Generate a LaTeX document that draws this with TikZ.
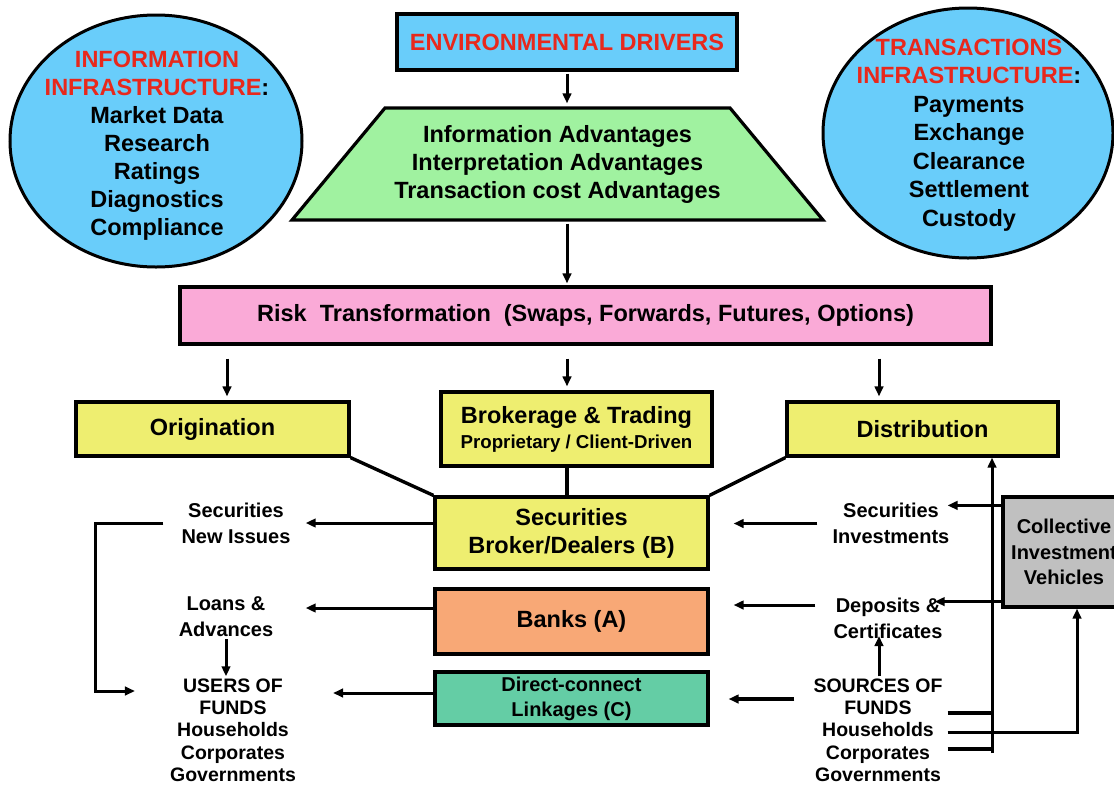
\documentclass[tikz,border=0pt]{standalone}
\usepackage{fontspec}
\setmainfont{Liberation Sans}
\usetikzlibrary{arrows.meta,positioning,shapes.geometric}
\definecolor{skyfill}{RGB}{105,205,250}
\definecolor{hdred}{RGB}{232,40,28}
\definecolor{advfill}{RGB}{160,242,160}
\definecolor{riskfill}{RGB}{250,170,215}
\definecolor{yelfill}{RGB}{238,238,112}
\definecolor{bankfill}{RGB}{248,168,118}
\definecolor{dirfill}{RGB}{100,205,165}
\definecolor{civfill}{RGB}{192,192,192}

\begin{document}
\begin{tikzpicture}[x=1pt, y=-1pt,
    box/.style={draw, line width=3.2pt, inner sep=0pt, align=center, font=\bfseries\fontsize{23.5}{28}\selectfont},
    bubble/.style={draw, ellipse, fill=skyfill, line width=3pt, minimum width=292pt, minimum height=252pt},
    lbl/.style={inner sep=2pt, align=center, font=\bfseries\fontsize{20}{26}\selectfont},
    fundlbl/.style={inner sep=2pt, align=center, font=\bfseries\fontsize{19.5}{22.3}\selectfont},
    arr/.style={-{Triangle[length=10pt,width=8.5pt]}, line width=3pt},
    link/.style={line width=3.4pt}]
    \useasboundingbox (0,0) rectangle (1114,785);

    % infrastructure bubbles
    \node[bubble] (infoell) at (156,141) {};
    \node[align=center, font=\bfseries\fontsize{23.5}{28}\selectfont] (info) at (157,146)
        {\textcolor{hdred}{INFORMATION}\\\textcolor{hdred}{INFRASTRUCTURE}:\\Market Data\\Research\\Ratings\\Diagnostics\\Compliance};
    \node[bubble, minimum width=290pt, minimum height=250pt] (transell) at (968,133) {};
    \node[align=center, font=\bfseries\fontsize{23.5}{28.5}\selectfont] (trans) at (969,135)
        {\textcolor{hdred}{TRANSACTIONS}\\\textcolor{hdred}{INFRASTRUCTURE}:\\Payments\\Exchange\\Clearance\\Settlement\\Custody};

    % top of the chain
    \node[box, fill=skyfill, minimum width=340pt, minimum height=56pt, text=hdred] (env) at (567,42) {ENVIRONMENTAL DRIVERS};
    \node[box, fill=advfill, trapezium, trapezium angle=40, trapezium stretches body,
          minimum width=531pt, minimum height=112pt] (adv) at (557.5,164)
        {Information Advantages\\Interpretation Advantages\\Transaction cost Advantages};
    \node[box, fill=riskfill, minimum width=811pt, minimum height=57pt] (risk) at (585.5,315.5)
        {Risk\ \ Transformation\ \ (Swaps, Forwards, Futures, Options)};

    \node[box, fill=yelfill, minimum width=273pt, minimum height=54pt] (orig) at (212.5,429) {Origination};
    \node[box, fill=yelfill, minimum width=271pt, minimum height=74pt] (brok) at (576.5,429)
        {Brokerage \& Trading\\[-3pt]{\fontsize{18.7}{22}\selectfont Proprietary / Client-Driven}};
    \node[box, fill=yelfill, minimum width=271pt, minimum height=54pt] (dist) at (922.5,429) {Distribution};

    % intermediaries
    \node[box, fill=yelfill, minimum width=273pt, minimum height=72pt] (sbd) at (571.5,533) {Securities\\Broker/Dealers (B)};
    \node[box, fill=bankfill, minimum width=273pt, minimum height=65pt] (banks) at (571.5,621.5) {Banks (A)};
    \node[box, fill=dirfill, minimum width=273pt, minimum height=53pt, font=\bfseries\fontsize{20}{25}\selectfont] (direct) at (571.5,698.5)
        {Direct-connect\\Linkages (C)};
    \node[box, fill=civfill, minimum width=122pt, minimum height=110pt, font=\bfseries\fontsize{20}{25.5}\selectfont] (civ) at (1064,552)
        {Collective\\Investment\\Vehicles};

    % users and sources
    \node[lbl] (secnew) at (236,523) {Securities\\New Issues};
    \node[lbl] (loans) at (226,617) {Loans \&\\Advances};
    \node[fundlbl] (users) at (233,730) {USERS OF\\FUNDS\\Households\\Corporates\\Governments};
    \node[lbl] (secinv) at (891,523.5) {Securities\\Investments};
    \node[lbl] (depos) at (888,618.5) {Deposits \&\\Certificates};
    \node[fundlbl] (sources) at (878,730) {SOURCES OF\\FUNDS\\Households\\Corporates\\Governments};

    % arrows down the chain
    \draw[arr, shorten <=2pt, shorten >=3pt] (env.south) -- (env.south |- adv.north);
    \draw[arr, shorten <=2pt, shorten >=2pt] (env.south |- adv.south) -- (env.south |- risk.north);
    \coordinate (o1) at ([xshift=14.5pt]orig.north);
    \coordinate (d1) at ([xshift=-43.5pt]dist.north);
    \draw[arr, shorten <=13pt, shorten >=4pt] (o1 |- risk.south) -- (o1);
    \draw[arr, shorten <=13pt, shorten >=4pt] (env.south |- risk.south) -- (env.south |- brok.north);
    \draw[arr, shorten <=13pt, shorten >=4pt] (d1 |- risk.south) -- (d1);

    \draw[link] (orig.south east) -- (sbd.north west);
    \draw[link] (env.south |- brok.south) -- (env.south |- sbd.north);
    \draw[link] (dist.south west) -- (sbd.north east);

    % to the users
    \draw[arr, shorten >=13pt] (sbd.west |- secnew) -- (secnew.east);
    \draw[arr, shorten >=13pt] ([yshift=13.5pt]banks.west) -- ([yshift=13.5pt]banks.west -| secnew.east);
    \draw[arr, shorten >=35pt] ([yshift=5.5pt]direct.west) -- ([yshift=5.5pt]direct.west -| users.east);
    \coordinate (brk) at (95,691);
    \draw[arr, shorten >=33pt] ([xshift=-16pt]secnew.west) -| (brk) -- (brk -| users.west);
    \draw[arr] (loans.south) -- (loans.south |- users.north);

    % from the sources
    \draw[arr, shorten >=24pt] ([xshift=-13pt]secinv.west) -- (sbd.east |- secinv);
    \draw[arr, shorten >=24pt] ([xshift=-16pt,yshift=13.5pt]depos.west) -- ([yshift=13.5pt]depos.west -| banks.east);
    \draw[arr, line width=3.6pt, shorten >=19pt] ([xshift=-17pt,yshift=31pt]sources.west) -- ([yshift=31pt]sources.west -| direct.east);
    \draw[arr, shorten >=-5pt] ([xshift=1pt]sources.north) -- ([xshift=1pt]sources.north |- depos.south);

    % collective investment vehicles
    \coordinate (bus) at (992,753);
    \draw[arr] (bus) -- (bus |- dist.south);
    \draw[link] ([xshift=3pt,yshift=17pt]sources.east) -- ([yshift=17pt]sources.east -| bus);
    \draw[arr] ([xshift=3pt,yshift=-2pt]sources.east) -| ([xshift=13pt]civ.south);
    \draw[link] ([xshift=3pt,yshift=-19pt]sources.east) -- ([yshift=-19pt]sources.east -| bus);
    \draw[arr, shorten >=-4pt] ([yshift=-10pt]civ.north west) -- ([yshift=-10pt]civ.north west -| secinv.east);
    \draw[arr, shorten >=-10pt] ([yshift=7pt]civ.south west) -- ([yshift=7pt]civ.south west -| depos.east);
\end{tikzpicture}
\end{document}
